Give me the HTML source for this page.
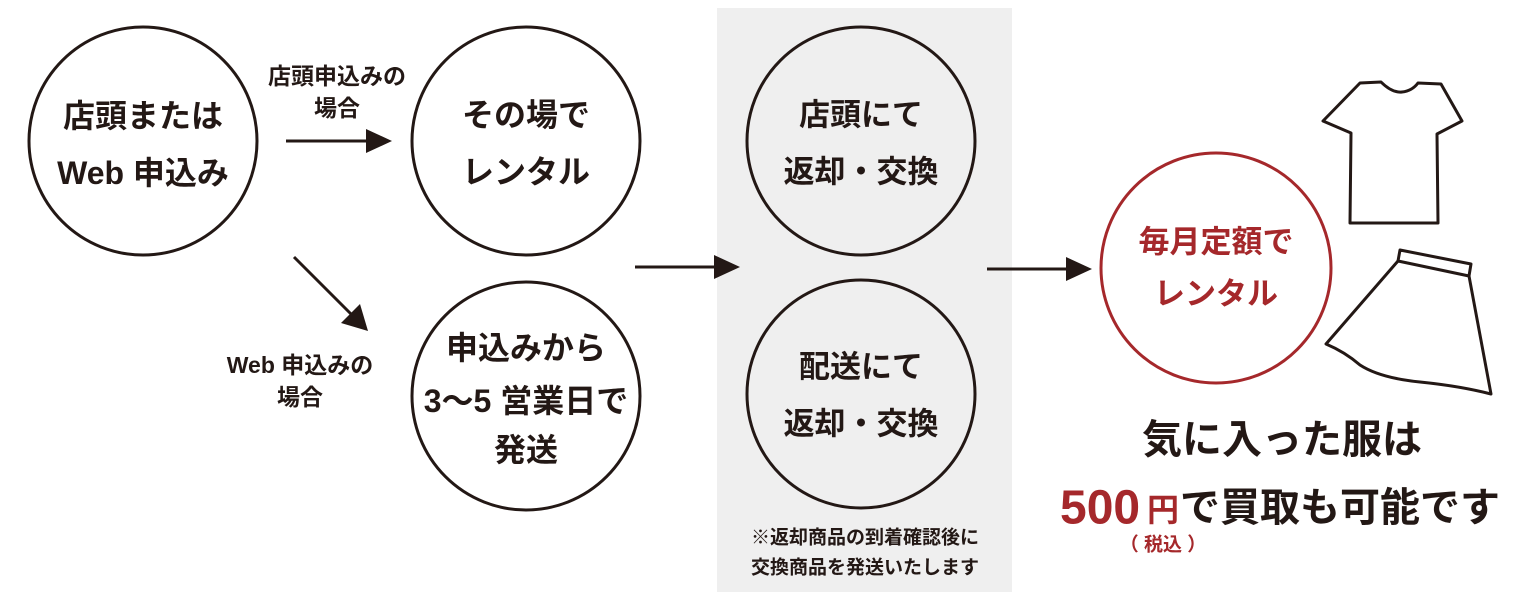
<!DOCTYPE html>
<html><head><meta charset="utf-8"><style>
html,body{margin:0;padding:0;background:#fff;}
svg{display:block;}
text{font-family:"Liberation Sans","Noto Sans CJK JP",sans-serif;font-weight:bold;text-anchor:middle;dominant-baseline:central;}
</style></head><body>
<svg width="1524" height="596" viewBox="0 0 1524 596" xmlns="http://www.w3.org/2000/svg">
<rect x="717" y="8" width="295" height="584" fill="#efefef"/>
<g fill="none" stroke="#231815" stroke-width="3">
<circle cx="143" cy="141" r="114"/>
<circle cx="526" cy="141" r="114"/>
<circle cx="526" cy="396" r="114"/>
<circle cx="861" cy="141" r="114"/>
<circle cx="861" cy="394" r="114"/>
</g>
<circle cx="1216" cy="268" r="115" fill="none" stroke="#a5282b" stroke-width="3"/>
<g stroke="#231815" stroke-width="3" fill="#231815">
<line x1="286" y1="141" x2="370" y2="141"/><polygon points="366,129 392,141 366,153" stroke="none"/>
<line x1="294" y1="257" x2="355" y2="318"/><polygon points="341,323 368,331 360,304" stroke="none"/>
<line x1="635" y1="267" x2="716" y2="267"/><polygon points="714,255 740,267 714,279" stroke="none"/>
<line x1="987" y1="269" x2="1068" y2="269"/><polygon points="1066,257 1092,269 1066,281" stroke="none"/>
</g>
<g fill="#231815" font-size="32">
<text x="143" y="116">店頭または</text>
<text x="143" y="173">Web 申込み</text>
<text x="526" y="115">その場で</text>
<text x="526" y="172">レンタル</text>
<text x="526" y="348">申込みから</text>
<text x="526" y="401">3〜5 営業日で</text>
<text x="526" y="450">発送</text>
</g>
<g fill="#231815" font-size="31">
<text x="861" y="115">店頭にて</text>
<text x="861" y="172">返却・交換</text>
<text x="861" y="367">配送にて</text>
<text x="861" y="424">返却・交換</text>
</g>
<g fill="#231815" font-size="23">
<text x="337" y="76">店頭申込みの</text>
<text x="337" y="108">場合</text>
<text x="300" y="365">Web 申込みの</text>
<text x="300" y="397">場合</text>
</g>
<g fill="#231815" font-size="19">
<text x="865" y="538">※返却商品の到着確認後に</text>
<text x="865" y="568">交換商品を発送いたします</text>
</g>
<g fill="#a5282b" font-size="31">
<text x="1216" y="242">毎月定額で</text>
<text x="1216" y="294">レンタル</text>
</g>
<text x="1282" y="440" font-size="40" fill="#231815">気に入った服は</text>
<text x="1060" y="508" font-size="48" fill="#a5282b" style="text-anchor:start">500</text>
<text x="1147" y="510" font-size="32" fill="#a5282b" style="text-anchor:start">円</text>
<text x="1180" y="508" font-size="40" fill="#231815" style="text-anchor:start">で買取も可能です</text>
<text x="1163" y="545" font-size="19" fill="#a5282b">（ 税込 ）</text>
<g fill="none" stroke="#231815" stroke-width="3" stroke-linejoin="round">
<path d="M1360,83 L1381,82 Q1392,93 1402,92 Q1412,91 1418,83 L1441,84 L1462,121 L1437,134 L1438,223 L1350,223 L1351,133 L1323,121 Z"/>
<path d="M1400,250 L1471,264 L1469,276 L1398,261 Z"/>
<path d="M1398,261 L1326,344 Q1345,352 1360,365 Q1380,378 1420,382 Q1460,386 1491,394 L1469,276"/>
</g>
</svg>
</body></html>
